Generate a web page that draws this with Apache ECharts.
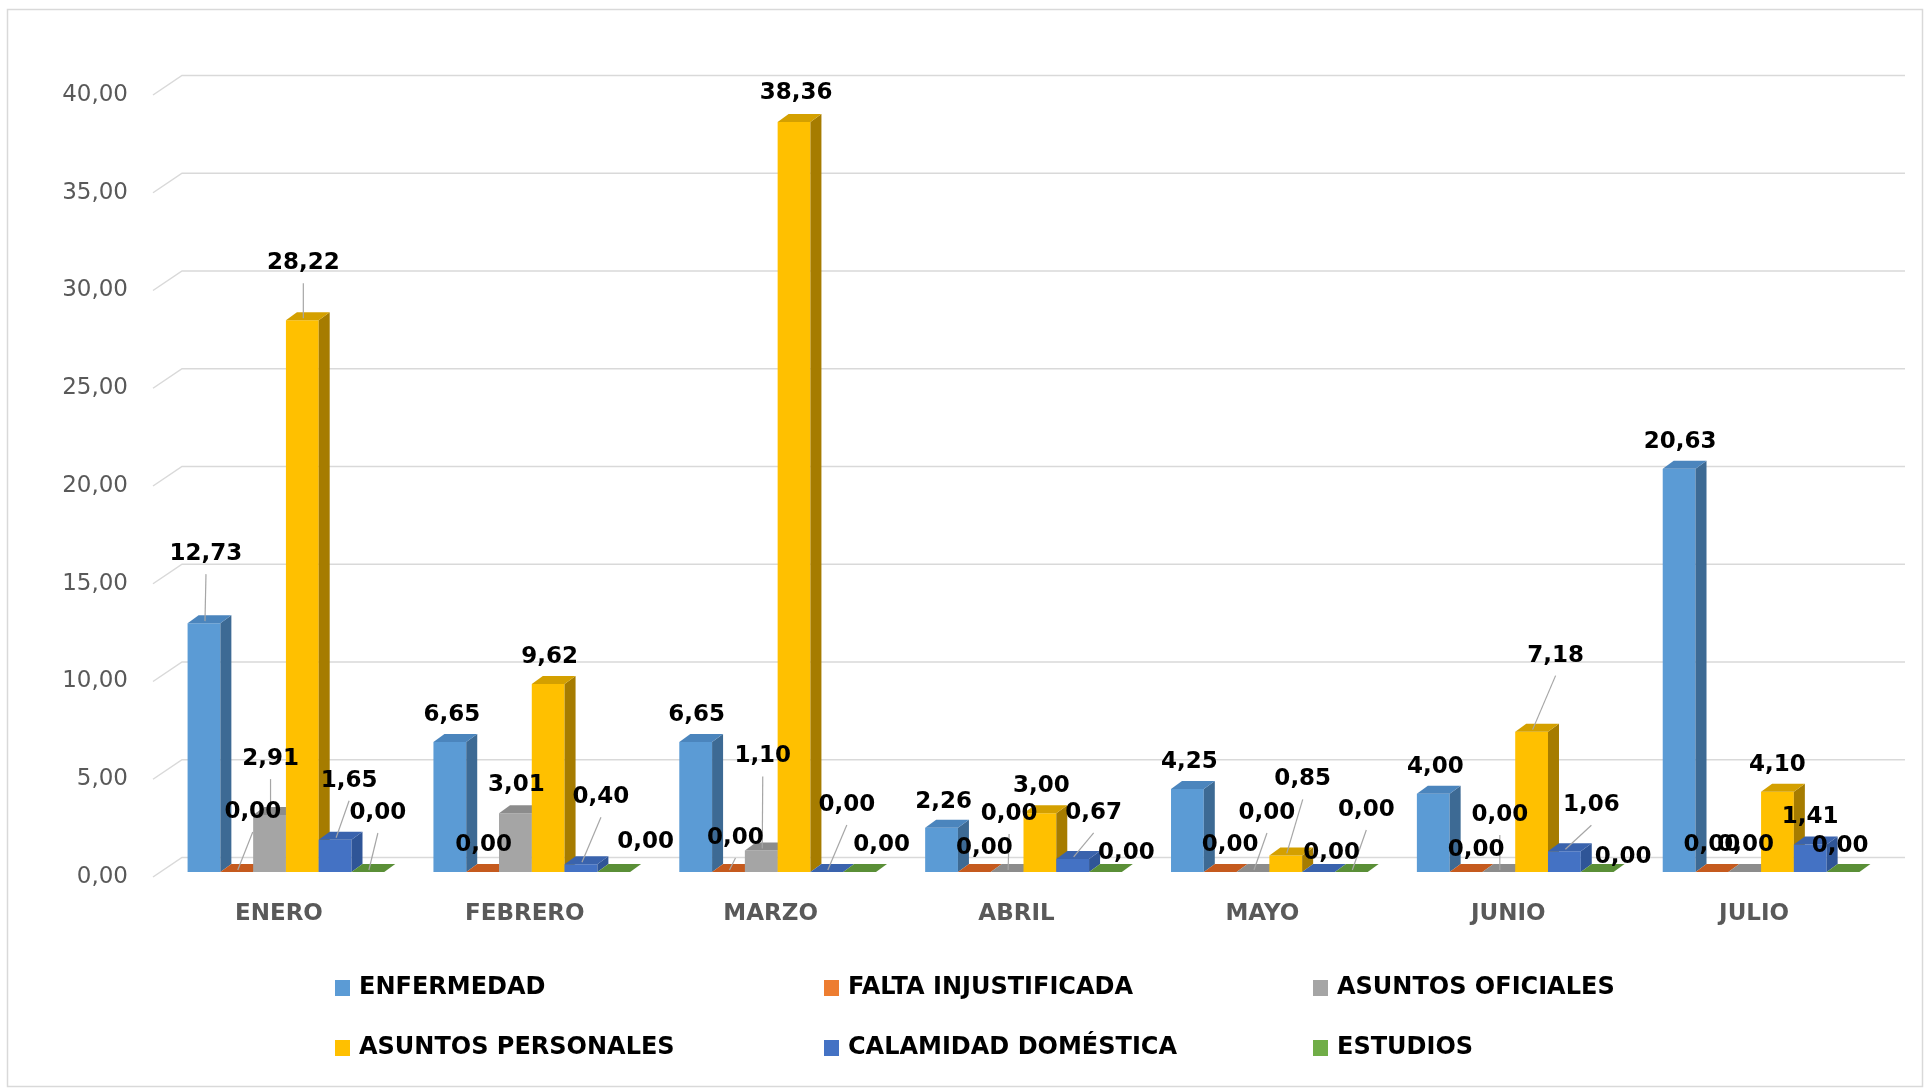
<!DOCTYPE html>
<html><head><meta charset="utf-8">
<script src="https://cdn.jsdelivr.net/npm/echarts@6/dist/echarts.min.js"></script>
<style>html,body{margin:0;padding:0;background:#fff}#c{width:1930px;height:1090px}</style>
</head><body><div id="c"></div>
<script>
// ---- data ----
const months = ['ENERO','FEBRERO','MARZO','ABRIL','MAYO','JUNIO','JULIO'];
const seriesNames = ['ENFERMEDAD','FALTA INJUSTIFICADA','ASUNTOS OFICIALES','ASUNTOS PERSONALES','CALAMIDAD DOMÉSTICA','ESTUDIOS'];
const enfermedad = [12.73, 6.65, 6.65, 2.26, 4.25, 4.00, 20.63];
const faltaInjustificada = [0, 0, 0, 0, 0, 0, 0];
const asuntosOficiales = [2.91, 3.01, 1.10, 0, 0, 0, 0];
const asuntosPersonales = [28.22, 9.62, 38.36, 3.00, 0.85, 7.18, 4.10];
const calamidadDomestica = [1.65, 0.40, 0, 0.67, 0, 1.06, 1.41];
const estudios = [0, 0, 0, 0, 0, 0, 0];
const yTicks = [0, 5, 10, 15, 20, 25, 30, 35, 40];

const seriesValues = [enfermedad, faltaInjustificada, asuntosOficiales, asuntosPersonales, calamidadDomestica, estudios];

// ---- styles ----
const faces = [
  {front:'#5B9BD5', side:'#3D6A94', top:'#4B85BD'},
  {front:'#ED7D31', side:'#A9541D', top:'#C55A1E'},
  {front:'#A5A5A5', side:'#7A7A7A', top:'#8C8C8C'},
  {front:'#FFC000', side:'#A67C00', top:'#D4A000'},
  {front:'#4472C4', side:'#2F5597', top:'#3A63AD'},
  {front:'#70AD47', side:'#4E7A30', top:'#5A8F37'}
];
// label nudges [dx, dy] relative to bar top centre (layout, not data)
const labelShift = [
  [[2,-69],[2,-27],[1,-27],[2,-26],[2,-27],[2,-27],[1,-27]],
  [[16,-60],[1,-27],[7,-34],[10,-24],[10,-27],[10,-22],[0,-27]],
  [[1,-56],[1,-28],[1.5,-94],[2,-58],[14,-59],[1,-57],[1,-27]],
  [[1,-57],[1.5,-27],[2,-29],[1.5,-27],[17,-76],[24,-76],[0,-27]],
  [[14,-59],[20,-67],[20,-67],[21,-46],[13,-19],[27,-46],[0,-27]],
  [[10,-59],[32,-30],[22,-27],[21,-19],[15,-62],[26,-15],[-3,-26]]
];
const DX = 11, DY = 8;      // bar depth
const BDX = 29, BDY = 19.5; // back wall offset
const fmt = v => Number(v).toFixed(2).replace('.', ',');

function makeBarRender(s) {
  return function (params, api) {
    const m = api.value(0), v = api.value(1);
    const base = api.coord([m, 0]);
    const top = api.coord([m, v]);
    const catW = api.size([1, 0])[0];
    const bw = catW * 0.8 / 6;
    const x0 = base[0] - 3 * bw + s * bw;
    const x1 = x0 + bw;
    const yb = base[1], yt = top[1];
    const c = faces[s];
    const children = [];
    if (yb - yt > 0.5) {
      children.push({type:'rect', shape:{x:x0, y:yt, width:bw, height:yb - yt}, style:{fill:c.front}});
      children.push({type:'polygon', shape:{points:[[x1,yt],[x1+DX,yt-DY],[x1+DX,yb-DY],[x1,yb]]}, style:{fill:c.side}});
    }
    children.push({type:'polygon', shape:{points:[[x0,yt],[x0+DX,yt-DY],[x1+DX,yt-DY],[x1,yt]]}, style:{fill:c.top}});
    const off = labelShift[s][m];
    const cx = (x0 + x1) / 2;
    const lx = cx + off[0], ly = yt + off[1];
    if (off[1] <= -33) {
      children.push({type:'line', z2:50, shape:{x1:lx, y1:ly + 20, x2:cx + 1, y2:yt - 2},
        style:{stroke:'#A6A6A6', lineWidth:1.2}});
    }
    children.push({type:'text', z2:100, style:{text:fmt(v), x:lx, y:ly, align:'center', verticalAlign:'middle',
      fontFamily:'DejaVu Sans', fontWeight:'bold', fontSize:23, fill:'#000'}});
    return {type:'group', children};
  };
}

const chart = echarts.init(document.getElementById('c'));

const barSeries = seriesNames.map((name, s) => ({
  name, type:'custom', xAxisIndex:1, yAxisIndex:1,
  itemStyle:{color:faces[s].front},
  renderItem: makeBarRender(s),
  data: months.map((_, i) => [i, seriesValues[s][i]])
}));

const gridSeries = {
  type:'custom', xAxisIndex:0, yAxisIndex:0, z:1, silent:true,
  renderItem: function (params, api) {
    const p = api.coord([0, api.value(1)]);
    const cs = params.coordSys;
    const y = p[1], xl = cs.x - 3;
    return {type:'polyline', shape:{points:[[xl, y],[xl + BDX, y - BDY],[cs.x + cs.width + 28, y - BDY]]},
      style:{stroke:'#D9D9D9', lineWidth:1.5, fill:null}};
  },
  data: yTicks.map(v => [0, v])
};

const colX = [330, 819, 1308];
const rowY = [969, 1029];
const legends = seriesNames.map((n, i) => ({
  data:[n], left: colX[i % 3], top: rowY[Math.floor(i / 3)],
  icon:'rect', itemWidth:15, itemHeight:16, selectedMode:false,
  textStyle:{fontFamily:'DejaVu Sans', fontWeight:'bold', fontSize:24, color:'#000', lineHeight:28, padding:[0,0,0,4]}
}));

chart.setOption({
  animation:false,
  backgroundColor:'#fff',
  graphic:[{type:'rect', silent:true, shape:{x:7.5, y:9.5, width:1915, height:1077},
    style:{fill:null, stroke:'#D9D9D9', lineWidth:1.5}}],
  legend: legends,
  grid:[
    {left:156, top:95, width:1721, height:782},
    {left:163, top:90, width:1721, height:782}
  ],
  xAxis:[
    {type:'category', gridIndex:0, data:months, axisLine:{show:false}, axisTick:{show:false},
      axisLabel:{margin:26, color:'#595959', fontFamily:'DejaVu Sans', fontWeight:'bold', fontSize:23}},
    {type:'category', gridIndex:1, data:months, show:false}
  ],
  yAxis:[
    {type:'value', gridIndex:0, min:0, max:40, interval:5, axisLine:{show:false}, axisTick:{show:false},
      splitLine:{show:false},
      axisLabel:{margin:28, color:'#595959', fontFamily:'DejaVu Sans', fontSize:23, formatter:v => fmt(v)}},
    {type:'value', gridIndex:1, min:0, max:40, interval:5, show:false, splitLine:{show:false}}
  ],
  series:[gridSeries].concat(barSeries)
});
</script>
</body></html>
